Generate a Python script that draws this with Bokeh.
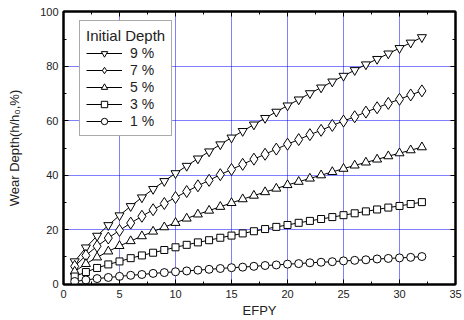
from bokeh.plotting import figure
from bokeh.models import (Range1d, LinearAxis, SingleIntervalTicker, Legend, LegendItem)
from bokeh.embed import file_html
from bokeh.resources import INLINE

efpy = list(range(1, 33))
depth_9 = [8.3, 13.4, 17.7, 21.6, 25.2, 28.6, 31.8, 34.9, 37.8, 40.7, 43.4, 46.1, 48.7, 51.3, 53.8, 56.2,
           58.6, 61.0, 63.3, 65.6, 67.8, 70.1, 72.2, 74.4, 76.5, 78.6, 80.7, 82.7, 84.7, 86.7, 88.7, 90.7]
depth_7 = [6.5, 10.5, 13.9, 16.9, 19.7, 22.4, 24.9, 27.3, 29.6, 31.8, 34.0, 36.1, 38.1, 40.2, 42.1, 44.0,
           45.9, 47.7, 49.6, 51.4, 53.1, 54.9, 56.5, 58.3, 59.9, 61.5, 63.2, 64.8, 66.4, 67.9, 69.5, 71.0]
depth_5 = [4.6, 7.4, 9.8, 12.0, 14.0, 15.8, 17.6, 19.3, 20.9, 22.5, 24.1, 25.6, 27.0, 28.4, 29.8, 31.2,
           32.5, 33.8, 35.1, 36.4, 37.6, 38.8, 40.0, 41.2, 42.4, 43.6, 44.7, 45.8, 47.0, 48.1, 49.2, 50.3]
depth_3 = [2.75, 4.4, 5.9, 7.2, 8.3, 9.5, 10.5, 11.5, 12.5, 13.5, 14.4, 15.3, 16.1, 17.0, 17.8, 18.6,
           19.4, 20.2, 21.0, 21.7, 22.5, 23.2, 23.9, 24.6, 25.3, 26.0, 26.7, 27.4, 28.1, 28.7, 29.4, 30.1]
depth_1 = [0.92, 1.5, 2.0, 2.4, 2.8, 3.2, 3.5, 3.9, 4.2, 4.5, 4.8, 5.1, 5.4, 5.7, 6.0, 6.2,
           6.5, 6.8, 7.0, 7.3, 7.5, 7.8, 8.0, 8.2, 8.5, 8.7, 8.9, 9.2, 9.4, 9.6, 9.8, 10.1]
series_labels = ["9 %", "7 %", "5 %", "3 %", "1 %"]
series_markers = ["inverted_triangle", "diamond", "triangle", "square", "circle"]
marker_sizes = [9, 12, 9, 7, 8]
series_values = [depth_9, depth_7, depth_5, depth_3, depth_1]

FONT = "Liberation Sans"

y_pad = 0.5 / 2.75

p = figure(width=464, height=320, output_backend="svg", toolbar_location=None,
           x_range=Range1d(0, 35), y_range=Range1d(0 - y_pad, 100 + y_pad),
           x_axis_label="EFPY", y_axis_label="Wear Depth(h/h\u2080,%)",
           min_border_left=63, min_border_right=9, min_border_top=11, min_border_bottom=33)
p.background_fill_color = "white"
p.border_fill_color = "white"
p.outline_line_color = "black"
p.outline_line_width = 2

xt = SingleIntervalTicker(interval=5, num_minor_ticks=2)
yt = SingleIntervalTicker(interval=20, num_minor_ticks=2)
p.xaxis.ticker = xt
p.yaxis.ticker = yt

for ax in (p.xaxis[0], p.yaxis[0]):
    ax.axis_line_color = "black"
    ax.axis_line_width = 2
    ax.major_tick_in = 5
    ax.major_tick_out = 0
    ax.minor_tick_in = 3
    ax.minor_tick_out = 0
    ax.major_tick_line_color = "black"
    ax.minor_tick_line_color = "black"
    ax.major_label_text_font = FONT
    ax.major_label_text_font_size = "11px"
    ax.major_label_text_color = "#222222"
    ax.axis_label_text_font = FONT
    ax.axis_label_text_font_size = "13px"
    ax.axis_label_text_font_style = "normal"
    ax.axis_label_text_color = "#222222"
p.xaxis.major_label_standoff = 5
p.xaxis.axis_label_standoff = 2
p.yaxis.major_label_standoff = 5
p.yaxis.axis_label_standoff = 15

for loc, tk in (("above", xt), ("right", yt)):
    ax = LinearAxis(ticker=tk, major_label_text_font_size="0px", major_label_standoff=0,
                    axis_line_width=2, major_tick_in=5, major_tick_out=0,
                    minor_tick_in=3, minor_tick_out=0)
    p.add_layout(ax, loc)

p.xgrid.ticker = xt
p.ygrid.ticker = yt
p.grid.grid_line_color = "#0000ff"
p.grid.grid_line_dash = "1 1"
p.grid.grid_line_width = 1
p.grid.grid_line_alpha = 1.0

items = []
for lab, mk, sz, vals in zip(series_labels, series_markers, marker_sizes, series_values):
    r1 = p.line(efpy, vals, line_color="black", line_width=1)
    r2 = p.scatter(efpy, vals, marker=mk, size=sz, fill_color="white",
                   line_color="black", line_width=1)
    items.append(LegendItem(label=lab, renderers=[r1, r2]))

legend = Legend(items=items, location=(16, 148), title="Initial Depth",
                title_text_font=FONT, title_text_font_size="15px", title_text_font_style="normal",
                title_text_color="#222222", title_standoff=1,
                label_text_font=FONT, label_text_font_size="14px", label_text_color="#222222",
                border_line_color="#555555", border_line_width=1.5,
                glyph_width=36, glyph_height=16, label_height=16, label_width=32, spacing=1,
                padding=6, margin=0, label_standoff=8, background_fill_alpha=1)
p.add_layout(legend, "center")

open("out.html", "w").write(file_html(p, INLINE))
